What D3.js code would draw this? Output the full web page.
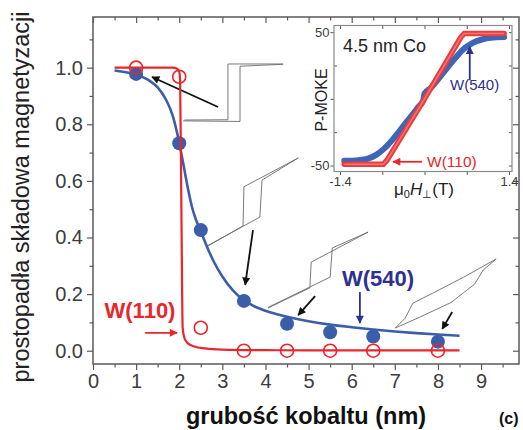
<!DOCTYPE html>
<html>
<head>
<meta charset="utf-8">
<script src="https://cdn.jsdelivr.net/npm/d3@7"></script>
<style>
  body { margin: 0; background: #fff; }
  svg { display: block; font-family: Arial, "Liberation Sans", sans-serif; }
</style>
</head>
<body>
<svg id="chart" width="523" height="430"></svg>
<script>
// measured points, thickness in nm vs perpendicular magnetisation component
var thickW540 = [1, 2, 2.5, 3.5, 4.5, 5.5, 6.5, 8];
var magW540 = [0.978, 0.733, 0.426, 0.176, 0.095, 0.065, 0.05, 0.032];
var thickW110 = [1, 2, 2.5, 3.5, 4.5, 5.5, 6.5, 8];
var magW110 = [1.0, 0.968, 0.081, 0, 0, 0, 0, 0];

// fitted lines
var fitW540 = [[0.5,0.99],[1.0,0.975],[1.3,0.955],[1.5,0.93],[1.7,0.885],[1.85,0.83],[1.95,0.77],[2.0,0.735],
  [2.1,0.655],[2.2,0.575],[2.3,0.505],[2.4,0.458],[2.5,0.422],[2.65,0.365],[2.8,0.315],[3.0,0.262],[3.25,0.212],
  [3.5,0.178],[3.75,0.156],[4.0,0.141],[4.5,0.12],[5.0,0.104],[5.5,0.092],[6.0,0.083],[6.5,0.075],[7.0,0.068],
  [7.5,0.062],[8.0,0.057],[8.5,0.053]];
var fitW110 = [[0.5,1.0],[1.85,1.0],[1.95,0.996],[2.0,0.985],[2.02,0.955],[2.05,0.5],[2.08,0.08],[2.12,0.045],
  [2.2,0.026],[2.35,0.015],[2.6,0.008],[3.0,0.004],[4.0,0.002],[5.0,0.001],[8.5,0.001]];

// inset: P-MOKE loops for 4.5 nm Co
var insetW540 = [[-1.33,-46.5],[-1.1,-46],[-0.95,-45],[-0.8,-42],[-0.66,-37],[-0.5,-29],[-0.3,-17.5],[-0.1,-6],
  [-0.02,-1],[0.0,4],[0.1,8],[0.3,19],[0.5,30],[0.64,37],[0.8,42],[0.95,44.5],[1.1,45.8],[1.32,46.3]];
var insetW110 = [[-1.33,-49],[-0.68,-49],[-0.62,-46],[0.0,0],[0.6,46],[0.66,49],[1.32,49]];

// small hysteresis loop sketches (in plot units)
var loopSketches = [
  [[[2.09,0.812],[3.41,0.81],[3.41,1.005],[4.41,1.012]], [[2.12,0.815],[3.13,0.816],[3.13,1.013],[4.41,1.013]]],
  [[[2.62,0.366],[3.48,0.441],[3.50,0.579],[4.76,0.681]], [[2.62,0.368],[3.87,0.472],[3.92,0.603],[4.76,0.681]]],
  [[[4.06,0.151],[5.03,0.222],[5.06,0.313],[6.38,0.419]], [[4.06,0.153],[5.50,0.26],[5.55,0.363],[6.38,0.419]]],
  [[[7.01,0.08],[7.24,0.115],[7.42,0.168],[7.9,0.205],[8.6,0.26],[9.35,0.324]],
   [[7.01,0.08],[7.6,0.12],[8.3,0.17],[8.85,0.235],[9.05,0.285],[9.35,0.324]]]
];
var blackArrows = [[[2.90,0.861],[1.37,0.967]], [[3.71,0.426],[3.53,0.233]], [[5.15,0.193],[4.76,0.126]], [[8.33,0.137],[8.10,0.077]]];

var xTicks = [0, 1, 2, 3, 4, 5, 6, 7, 8, 9];
var yTicks = [0, 0.2, 0.4, 0.6, 0.8, 1.0];

var blue = "#3b5eab", navy = "#2e3192", red = "#e8262b", axisCol = "#5a5a5a", textCol = "#3c3c3c";

var svg = d3.select("#chart");
var x = d3.scaleLinear([0, 9.88], [93, 519]);
var y = d3.scaleLinear([-0.047, 1.179], [364, 17]);

// arrow heads
var defs = svg.append("defs");
function marker(id, col, w, h) {
  defs.append("marker").attr("id", id)
    .attr("viewBox", "0 0 10 10").attr("refX", 9).attr("refY", 5)
    .attr("markerUnits", "userSpaceOnUse").attr("markerWidth", w).attr("markerHeight", h)
    .attr("orient", "auto")
    .append("path").attr("d", "M0,0 L10,5 L0,10 Z").attr("fill", col);
}
marker("headBlack", "#111", 11, 8);
marker("headRed", red, 11, 8);
marker("headNavy", navy, 11, 8);

// axes
function styleAxis(g) {
  g.select(".domain").remove();
  g.selectAll(".tick line").attr("stroke", axisCol).attr("stroke-width", 1.2);
  g.selectAll(".tick text").attr("fill", textCol).attr("font-size", 20);
}
var minorX = d3.range(0.5, 9.6, 1);
var minorY = [0.1, 0.3, 0.5, 0.7, 0.9, 1.1];

svg.append("g").attr("transform", "translate(0,364)")
  .call(d3.axisBottom(x).tickValues(xTicks).tickFormat(d3.format("d")).tickSize(6).tickPadding(4))
  .call(styleAxis);
svg.append("g").attr("transform", "translate(0,364)")
  .call(d3.axisBottom(x).tickValues(minorX).tickFormat("").tickSize(3.5)).call(styleAxis);
svg.append("g").attr("transform", "translate(0,17)")
  .call(d3.axisTop(x).tickValues(xTicks).tickFormat("").tickSize(-6)).call(styleAxis);
svg.append("g").attr("transform", "translate(0,17)")
  .call(d3.axisTop(x).tickValues(minorX).tickFormat("").tickSize(-3.5)).call(styleAxis);

svg.append("g").attr("transform", "translate(93,0)")
  .call(d3.axisLeft(y).tickValues(yTicks).tickFormat(d3.format(".1f")).tickSize(6).tickPadding(4))
  .call(styleAxis);
svg.append("g").attr("transform", "translate(93,0)")
  .call(d3.axisLeft(y).tickValues(minorY).tickFormat("").tickSize(3.5)).call(styleAxis);
svg.append("g").attr("transform", "translate(519,0)")
  .call(d3.axisRight(y).tickValues(yTicks).tickFormat("").tickSize(-6)).call(styleAxis);
svg.append("g").attr("transform", "translate(519,0)")
  .call(d3.axisRight(y).tickValues(minorY).tickFormat("").tickSize(-3.5)).call(styleAxis);

svg.append("rect").attr("x", 93).attr("y", 17).attr("width", 426).attr("height", 347)
  .attr("fill", "none").attr("stroke", axisCol).attr("stroke-width", 1.5);

// axis titles
svg.append("text").attr("transform", "translate(29,197) rotate(-90)")
  .attr("text-anchor", "middle").attr("font-size", 23.5).attr("fill", "#222")
  .text("prostopadła składowa magnetyzacji");
svg.append("text").attr("x", 306).attr("y", 424).attr("text-anchor", "middle")
  .attr("font-size", 23.5).attr("font-weight", "bold").attr("fill", "#111")
  .text("grubość kobaltu (nm)");
svg.append("text").attr("x", 499).attr("y", 424).attr("font-size", 16)
  .attr("font-weight", "bold").attr("fill", "#111").text("(c)");

// loop sketches
var line = d3.line().x(d => x(d[0])).y(d => y(d[1]));
loopSketches.forEach(loop => {
  loop.forEach(branch => {
    svg.append("path").attr("d", line(branch)).attr("fill", "none")
      .attr("stroke", "#6b6b6b").attr("stroke-width", 0.9);
  });
});
blackArrows.forEach(a => {
  svg.append("path").attr("d", line(a)).attr("stroke", "#111").attr("stroke-width", 1.8)
    .attr("marker-end", "url(#headBlack)");
});

// curves and points
var smooth = d3.line().x(d => x(d[0])).y(d => y(d[1])).curve(d3.curveMonotoneX);
svg.append("path").attr("d", smooth(fitW540)).attr("fill", "none")
  .attr("stroke", blue).attr("stroke-width", 2.6);
svg.append("g").selectAll("circle").data(thickW540).enter().append("circle")
  .attr("cx", d => x(d)).attr("cy", (d, i) => y(magW540[i])).attr("r", 7).attr("fill", blue);
svg.append("path").attr("d", smooth(fitW110)).attr("fill", "none")
  .attr("stroke", red).attr("stroke-width", 2.2);
svg.append("g").selectAll("circle").data(thickW110).enter().append("circle")
  .attr("cx", d => x(d)).attr("cy", (d, i) => y(magW110[i])).attr("r", 6.5)
  .attr("fill", "none").attr("stroke", red).attr("stroke-width", 1.6);

// series labels
svg.append("text").attr("x", x(1.09)).attr("y", y(0.144) + 8).attr("text-anchor", "middle")
  .attr("font-size", 22).attr("font-weight", "bold").attr("fill", red).text("W(110)");
svg.append("path").attr("d", line([[1.21,0.063],[1.95,0.063]])).attr("stroke", red)
  .attr("stroke-width", 1.8).attr("marker-end", "url(#headRed)");
svg.append("text").attr("x", x(6.61)).attr("y", y(0.257) + 8).attr("text-anchor", "middle")
  .attr("font-size", 22).attr("font-weight", "bold").attr("fill", navy).text("W(540)");
svg.append("path").attr("d", line([[6.19,0.207],[6.19,0.098]])).attr("stroke", navy)
  .attr("stroke-width", 1.8).attr("marker-end", "url(#headNavy)");

// ---- inset ----
var ix = d3.scaleLinear([-1.5, 1.45], [334, 512]);
var iy = d3.scaleLinear([-54.5, 55], [171.5, 25.5]);
var inset = svg.append("g");
inset.append("rect").attr("x", 334).attr("y", 25.5).attr("width", 178).attr("height", 146)
  .attr("fill", "#fff");
function styleInset(g) {
  g.select(".domain").remove();
  g.selectAll(".tick line").attr("stroke", axisCol).attr("stroke-width", 1);
  g.selectAll(".tick text").attr("fill", textCol).attr("font-size", 13);
}
var ixTicks = [-1.4, -0.7, 0, 0.7, 1.4];
inset.append("g").attr("transform", "translate(0,171.5)")
  .call(d3.axisBottom(ix).tickValues(ixTicks).tickSize(3.5).tickPadding(2)
    .tickFormat(d => Math.abs(d) === 1.4 ? d3.format(".1f")(d).replace("−", "-") : ""))
  .call(styleInset);
inset.append("g").attr("transform", "translate(0,25.5)")
  .call(d3.axisTop(ix).tickValues(ixTicks).tickFormat("").tickSize(-3.5)).call(styleInset);
inset.append("g").attr("transform", "translate(334,0)")
  .call(d3.axisLeft(iy).tickValues([-50, 0, 50]).tickSize(3.5).tickPadding(1)
    .tickFormat(d => d === 0 ? "" : String(d)))
  .call(styleInset);
inset.append("g").attr("transform", "translate(334,0)")
  .call(d3.axisLeft(iy).tickValues([-25, 25]).tickFormat("").tickSize(-3)).call(styleInset);
inset.append("g").attr("transform", "translate(512,0)")
  .call(d3.axisRight(iy).tickValues([-50, -25, 0, 25, 50]).tickFormat("").tickSize(-3)).call(styleInset);
inset.append("rect").attr("x", 334).attr("y", 25.5).attr("width", 178).attr("height", 146)
  .attr("fill", "none").attr("stroke", "#8a8a8a").attr("stroke-width", 1.2);

var iline = d3.line().x(d => ix(d[0])).y(d => iy(d[1])).curve(d3.curveMonotoneX);
var iline2 = d3.line().x(d => ix(d[0])).y(d => iy(d[1]));
inset.append("path").attr("d", iline(insetW540)).attr("fill", "none")
  .attr("stroke", "#3d66b8").attr("stroke-width", 6).attr("stroke-linecap", "round");
inset.append("path").attr("d", iline2(insetW110)).attr("fill", "none")
  .attr("stroke", "#ec3b3b").attr("stroke-width", 5.5).attr("stroke-linecap", "round");
inset.append("path").attr("d", iline2(insetW110)).attr("fill", "none")
  .attr("stroke", "#f48a8a").attr("stroke-width", 1.5).attr("stroke-opacity", 0.8);

inset.append("text").attr("x", 343).attr("y", 52).attr("font-size", 18).attr("fill", "#222")
  .text("4.5 nm Co");
inset.append("text").attr("transform", "translate(327,100) rotate(-90)").attr("text-anchor", "middle")
  .attr("font-size", 16).attr("fill", "#222").text("P-MOKE");
var xl = inset.append("text").attr("x", 424).attr("y", 195).attr("text-anchor", "middle")
  .attr("font-size", 17).attr("fill", "#222");
xl.append("tspan").text("μ");
xl.append("tspan").attr("font-size", 11).attr("dy", 3).text("0");
xl.append("tspan").attr("font-style", "italic").attr("dy", -3).text("H");
xl.append("tspan").attr("font-size", 11).attr("dy", 3).text("⊥");
xl.append("tspan").attr("dy", -3).text("(T)");

inset.append("text").attr("x", 450).attr("y", 90).attr("font-size", 15).attr("fill", navy).text("W(540)");
inset.append("path").attr("d", d3.line()([[ix(0.75), iy(14)], [ix(0.75), iy(39)]]))
  .attr("stroke", navy).attr("stroke-width", 1.8).attr("marker-end", "url(#headNavy)");
inset.append("text").attr("x", 427).attr("y", 167).attr("font-size", 15.5).attr("fill", red).text("W(110)");
inset.append("path").attr("d", d3.line()([[ix(-0.04), iy(-47.2)], [ix(-0.52), iy(-47.2)]]))
  .attr("stroke", red).attr("stroke-width", 1.8).attr("marker-end", "url(#headRed)");
</script>
</body>
</html>
